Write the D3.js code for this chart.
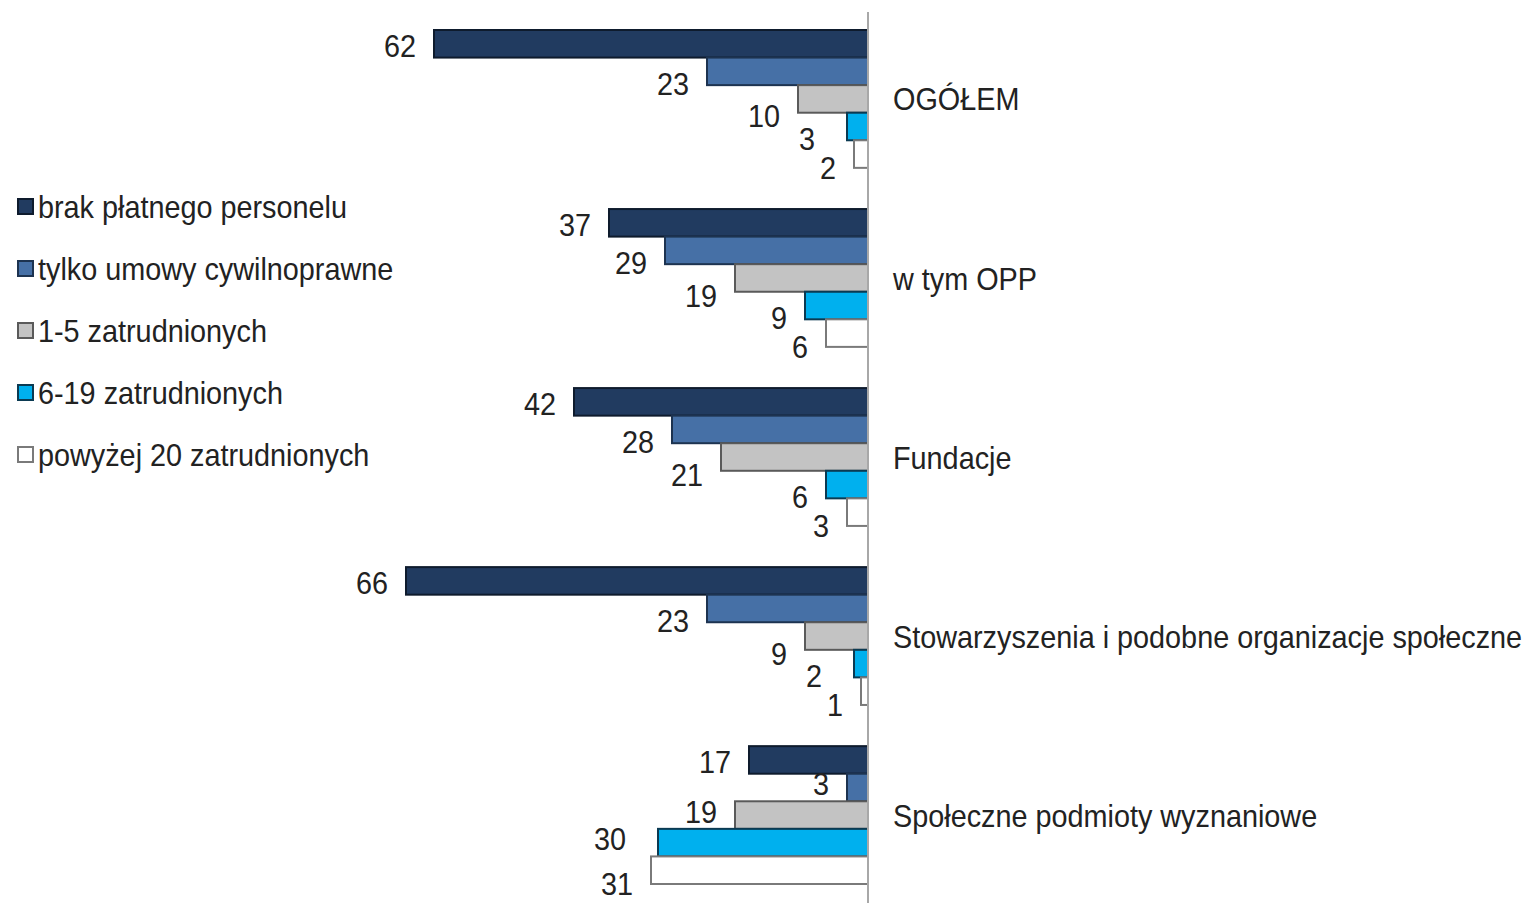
<!DOCTYPE html>
<html lang="pl">
<head>
  <meta charset="UTF-8" />
  <title>Personel organizacji</title>
  <style>
    body { margin: 0; background: #fff; }
    svg { display: block; }
    text { font-family: 'Liberation Sans', Arial, sans-serif; fill: #222; }
  </style>
</head>
<body>
  <svg width="1528" height="903"></svg>

  <script src="https://d3js.org/d3.v7.min.js"></script>
  <script>
    // --- data (%)
    const categories = ["OGÓŁEM", "w tym OPP", "Fundacje",
      "Stowarzyszenia i podobne organizacje społeczne", "Społeczne podmioty wyznaniowe"];
    const seriesNames = ["brak płatnego personelu", "tylko umowy cywilnoprawne",
      "1-5 zatrudnionych", "6-19 zatrudnionych", "powyżej 20 zatrudnionych"];
    const brak     = [62, 37, 42, 66, 17];
    const umowy    = [23, 29, 28, 23, 3];
    const zatr1_5  = [10, 19, 21, 9, 19];
    const zatr6_19 = [3, 9, 6, 2, 30];
    const zatr20   = [2, 6, 3, 1, 31];
    const seriesValues = [brak, umowy, zatr1_5, zatr6_19, zatr20];

    const fills   = ["#213b60", "#4670a6", "#c3c3c3", "#00b0ee", "#ffffff"];
    const strokes = ["#0e1b2d", "#1d3350", "#5a5a5a", "#0b3a52", "#7a7a7a"];
    const labelDy = [2, 12, 17, 12, 13]; // label nudge below the bar centre

    const svg = d3.select("svg");
    const axisX = 868;
    const sx = 0.9; // glyphs in the picture are a little narrow

    const x = d3.scaleLinear().domain([0, 100]).range([axisX, axisX - 700]);
    const yGroup = d3.scaleBand().domain(d3.range(categories.length))
      .range([30, 884]).paddingInner(0.23).paddingOuter(0);
    const ySeries = d3.scaleBand().domain(d3.range(seriesNames.length))
      .range([0, yGroup.bandwidth()]);

    function addText(parent, tx, ty, str, anchor, size) {
      return parent.append("g").attr("transform", `translate(${tx},${ty}) scale(${sx},1)`)
        .append("text")
        .attr("text-anchor", anchor)
        .attr("dominant-baseline", "central")
        .style("font-size", size + "px")
        .text(str);
    }

    // bars
    const rows = [];
    seriesValues.forEach((vals, s) => vals.forEach((v, c) => rows.push({ s, c, v })));

    svg.append("g").selectAll("rect").data(rows).join("rect")
      .attr("x", d => x(d.v))
      .attr("y", d => yGroup(d.c) + ySeries(d.s))
      .attr("width", d => axisX - x(d.v))
      .attr("height", ySeries.bandwidth())
      .attr("fill", d => fills[d.s])
      .attr("stroke", d => strokes[d.s])
      .attr("stroke-width", 2);

    // value labels: drop below the bar centre unless the next bar is longer,
    // and step left when the next label would sit right under this one
    const labels = svg.append("g");
    rows.forEach(d => {
      const next = seriesValues[d.s + 1];
      const blocked = next && next[d.c] > d.v && d.s > 0;
      const dy = blocked ? -4 : labelDy[d.s];
      const cy = yGroup(d.c) + ySeries(d.s) + ySeries.bandwidth() / 2 + dy;
      let lx = x(d.v) - 18;
      if (next && d.s > 0 && Math.abs(x(next[d.c]) - x(d.v)) < 15) lx -= 14;
      addText(labels, lx, cy, d.v, "end", 32);
    });

    // vertical axis
    svg.append("line")
      .attr("x1", axisX).attr("x2", axisX)
      .attr("y1", 12).attr("y2", 903)
      .attr("stroke", "#a8a8a8").attr("stroke-width", 2);

    // category labels
    const cats = svg.append("g");
    categories.forEach((name, c) => {
      addText(cats, 893, yGroup(c) + yGroup.bandwidth() / 2, name, "start", 32);
    });

    // legend
    const legend = svg.append("g");
    seriesNames.forEach((name, s) => {
      const ly = 206 + s * 62;
      legend.append("rect")
        .attr("x", 18).attr("y", ly - 7).attr("width", 15).attr("height", 15)
        .attr("fill", fills[s]).attr("stroke", strokes[s]).attr("stroke-width", 2);
      addText(legend, 38, ly, name, "start", 32);
    });
  </script>
</body>
</html>
